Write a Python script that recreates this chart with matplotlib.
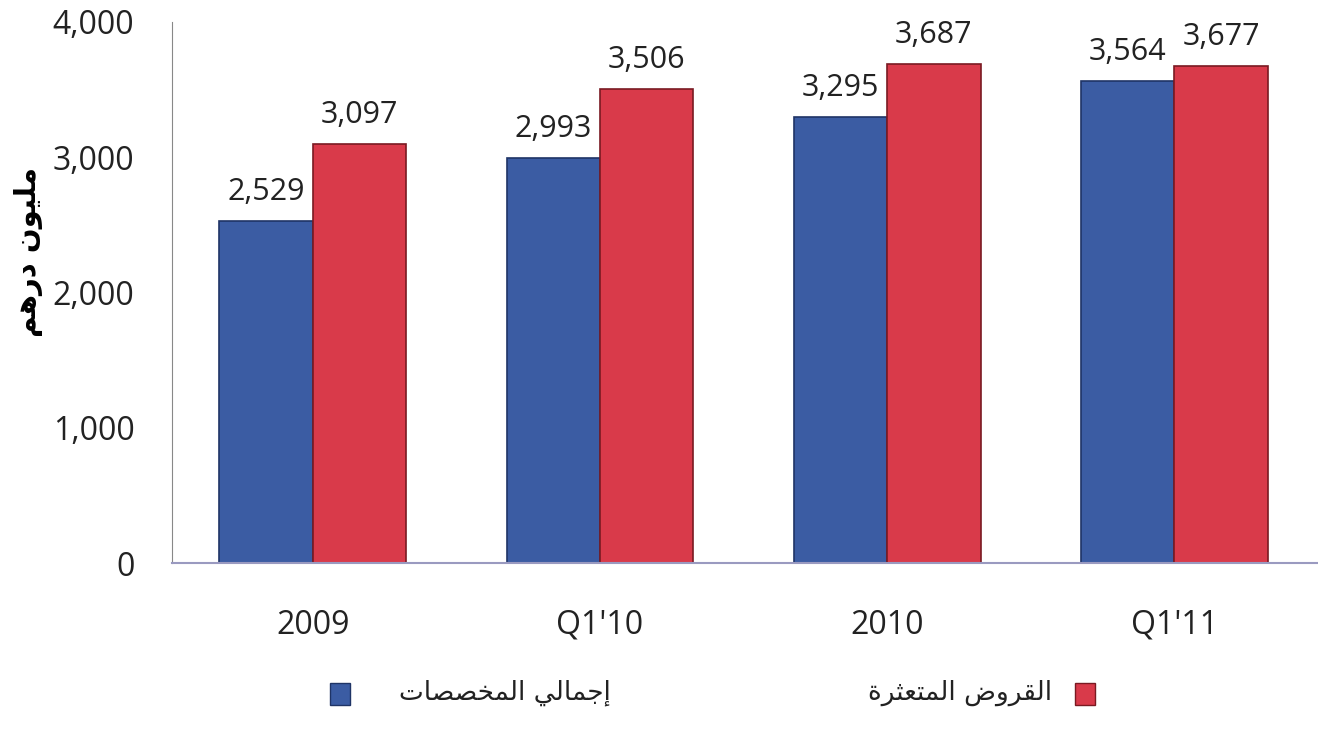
import numpy as np
import matplotlib.pyplot as plt
from matplotlib.patches import Rectangle
from matplotlib.ticker import FuncFormatter

# Data
categories = ["2009", "Q1'10", "2010", "Q1'11"]
provisions = [2529, 2993, 3295, 3564]   # blue
npl = [3097, 3506, 3687, 3677]          # red

# Arabic text in presentation forms, visual order (matplotlib does no shaping)
ylabel_txt = "\uFEE2\uFEEB\uFEAD\uFEA9 \uFEE5\uFEEE\uFEF4\uFEE0\uFEE3"          # مليون درهم
blue_txt = ("\uFE95\uFE8E\uFEBC\uFEBC\uFEA8\uFEE4\uFEDF\uFE8D "
            "\uFEF2\uFEDF\uFE8E\uFEE4\uFE9F\uFE87")                            # إجمالي المخصصات
red_txt = ("\uFE93\uFEAE\uFE9C\uFECC\uFE98\uFEE4\uFEDF\uFE8D "
           "\uFEBD\uFEED\uFEAE\uFED8\uFEDF\uFE8D")                             # القروض المتعثرة

blue = "#3B5CA3"
red = "#D93A4A"

plt.rcParams['font.family'] = ['Open Sans', 'DejaVu Sans']

fig = plt.figure(figsize=(13.18, 7.31), dpi=100)
ax = fig.add_axes([0.1305, 0.2298, 0.8695, 0.7402])

x = np.arange(len(categories))
w = 0.325
b1 = ax.bar(x - w / 2, provisions, w, color=blue, edgecolor="#1F3466", linewidth=1.2)
b2 = ax.bar(x + w / 2, npl, w, color=red, edgecolor="#7A1A22", linewidth=1.2)

for bars, vals in ((b1, provisions), (b2, npl)):
    for r, v in zip(bars, vals):
        ax.annotate(f"{v:,}", (r.get_x() + r.get_width() / 2, v),
                    xytext=(0, 10), textcoords="offset points",
                    ha="center", va="bottom", fontsize=22, color="#222222")

ax.set_xlim(-0.49, 3.5)
ax.set_ylim(0, 4000)
ax.set_yticks([0, 1000, 2000, 3000, 4000])
ax.yaxis.set_major_formatter(FuncFormatter(lambda v, p: f"{int(v):,}"))
ax.set_xticks(x)
ax.set_xticklabels(categories)
ax.tick_params(axis="y", length=0, pad=27, labelsize=23, colors="#222222")
ax.tick_params(axis="x", length=0, pad=33, labelsize=23, colors="#222222")

for s in ("top", "right"):
    ax.spines[s].set_visible(False)
ax.spines["left"].set_color("#888888")
ax.spines["bottom"].set_color("#9A9AC0")
ax.spines["bottom"].set_linewidth(1.5)

fig.text(0.022, 0.655, ylabel_txt, rotation=90, ha="center", va="center",
         fontsize=21, fontweight="bold", family="DejaVu Sans")

# legend drawn by hand
fig.patches.append(Rectangle((330 / 1318, 1 - 705 / 731), 20 / 1318, 22 / 731,
                             transform=fig.transFigure, facecolor=blue, edgecolor="#1F3466"))
fig.text(505 / 1318, 1 - 693 / 731, blue_txt, ha="center", va="center",
         fontsize=19, family="DejaVu Sans", color="#222222")
fig.patches.append(Rectangle((1075 / 1318, 1 - 705 / 731), 20 / 1318, 22 / 731,
                             transform=fig.transFigure, facecolor=red, edgecolor="#7A1A22"))
fig.text(960 / 1318, 1 - 693 / 731, red_txt, ha="center", va="center",
         fontsize=19, family="DejaVu Sans", color="#222222")

fig.savefig("out.png", dpi=100)
